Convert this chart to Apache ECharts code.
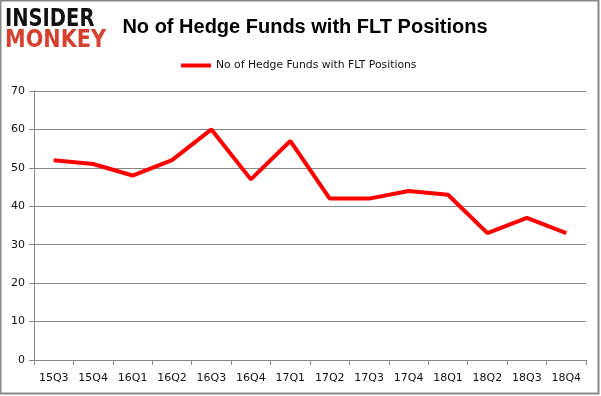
<!DOCTYPE html>
<html><head><meta charset="utf-8">
<script src="https://cdn.jsdelivr.net/npm/echarts@6/dist/echarts.min.js"></script>
<style>html,body{margin:0;padding:0;background:#fff}#c{width:601px;height:396px}</style>
</head><body><div id="c"></div>
<script>
const categories = ['15Q3','15Q4','16Q1','16Q2','16Q3','16Q4','17Q1','17Q2','17Q3','17Q4','18Q1','18Q2','18Q3','18Q4'];
const hedgeFunds = [52,51,48,52,60,47,57,42,42,44,43,33,37,33];
const seriesName = 'No of Hedge Funds with FLT Positions';
const titleText = 'No of Hedge Funds with FLT Positions';

const chart = echarts.init(document.getElementById('c'), null, {renderer:'canvas'});
chart.setOption({
  animation:false,
  backgroundColor:'#fff',
  title:{text:titleText,left:300,top:12,textAlign:'center',
    textStyle:{fontFamily:'Liberation Sans',fontWeight:'bold',fontSize:20,color:'#000'}},
  legend:{top:55,left:176,icon:'rect',itemWidth:30,itemHeight:4,
    textStyle:{fontFamily:'DejaVu Sans',fontSize:10.8,color:'#111'},data:[seriesName]},
  grid:{left:34,right:15,top:91,bottom:36},
  xAxis:{type:'category',data:categories,boundaryGap:true,
    axisLine:{lineStyle:{color:'#888',width:1}},
    axisTick:{show:true,length:5,lineStyle:{color:'#888'}},
    axisLabel:{fontFamily:'DejaVu Sans',fontSize:11,color:'#111',margin:13}},
  yAxis:{type:'value',min:0,max:70,interval:10,
    axisLine:{show:true,lineStyle:{color:'#888'}},
    axisTick:{show:true,length:5,lineStyle:{color:'#888'}},
    splitLine:{lineStyle:{color:'#888',width:1}},
    axisLabel:{fontFamily:'DejaVu Sans',fontSize:11,color:'#111',margin:9}},
  series:[{name:seriesName,type:'line',data:hedgeFunds,showSymbol:false,symbol:'none',
    lineStyle:{color:'#ff0000',width:4},itemStyle:{color:'#ff0000'}}],
  graphic:[
    {type:'rect',shape:{x:0.5,y:0.5,width:598,height:393},style:{fill:'none',stroke:'#888',lineWidth:2},silent:true},
    {type:'text',x:5,y:7,scaleX:0.78,style:{text:'INSIDER',font:'bold 25px "DejaVu Sans"',fill:'#111'}},
    {type:'text',x:5,y:28,scaleX:0.83,style:{text:'MONKEY',font:'bold 25px "DejaVu Sans"',fill:'#d6402f'}}
  ]
});
</script></body></html>
